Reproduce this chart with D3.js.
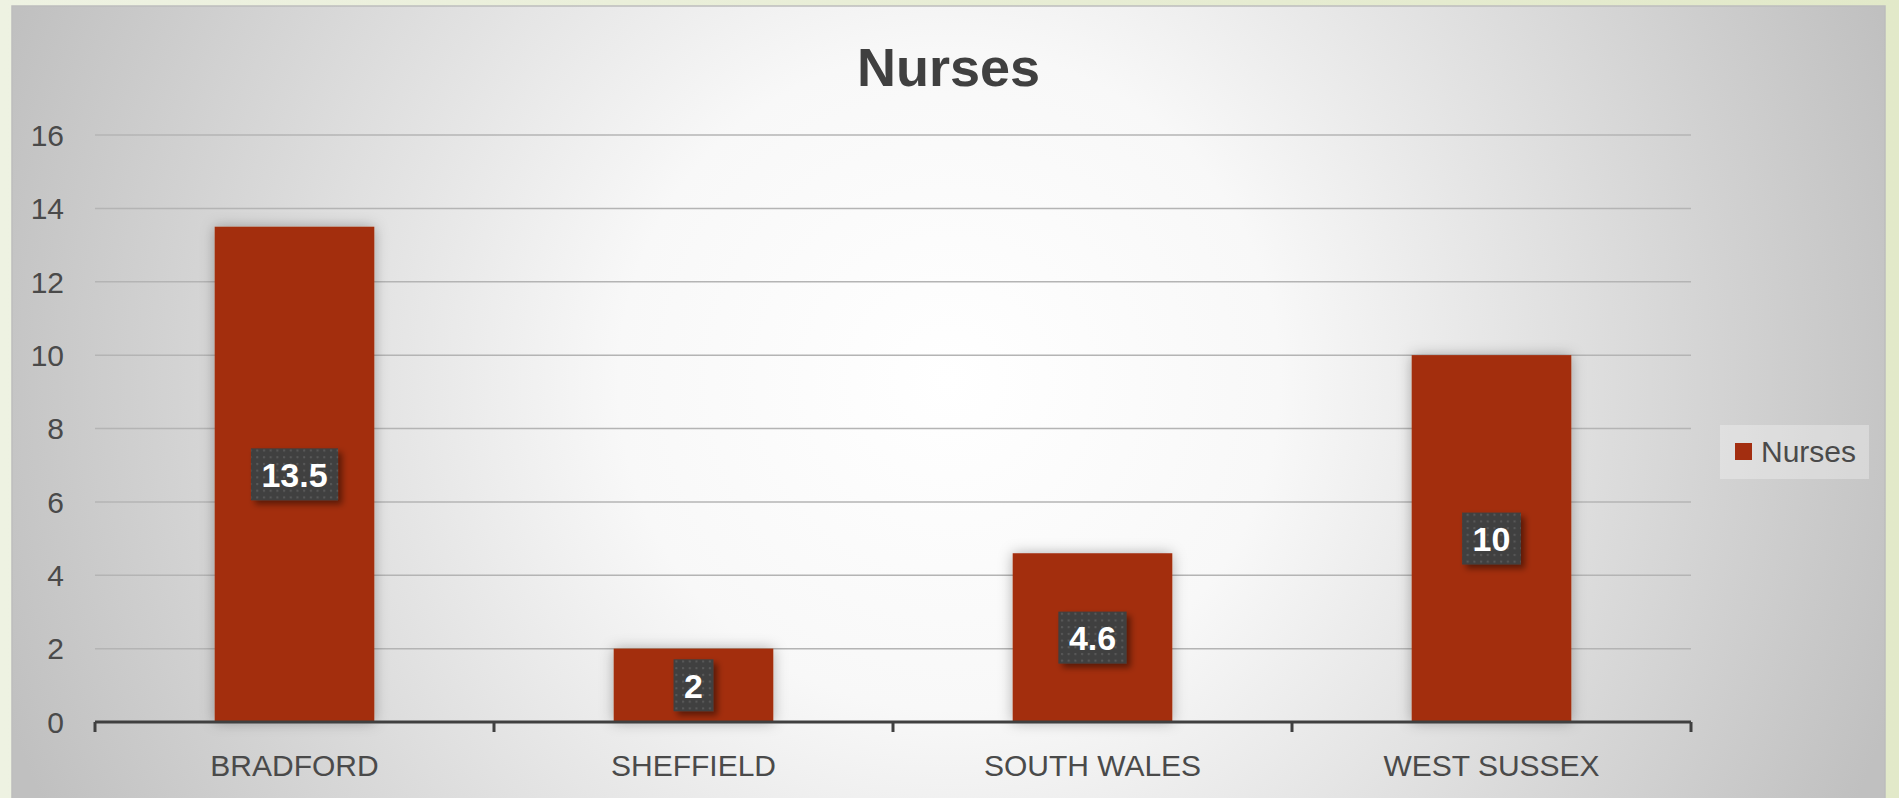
<!DOCTYPE html>
<html>
<head>
<meta charset="utf-8">
<script src="https://cdn.jsdelivr.net/npm/d3@7"></script>
<style>
	html, body { margin: 0; padding: 0; background: #e9efd8; }
	svg { display: block; }
</style>
</head>
<body>
<div id="nurses-chart"></div>
<script>
// chart data
const categories = [ 'BRADFORD', 'SHEFFIELD', 'SOUTH WALES', 'WEST SUSSEX' ];
const nurses = [ 13.5, 2, 4.6, 10 ];
const yTicks = [ 0, 2, 4, 6, 8, 10, 12, 14, 16 ];
const seriesName = 'Nurses';
const chartTitle = 'Nurses';

const width = 1899,
	height = 798;
const margin = { top: 135, right: 208, bottom: 76, left: 95 };
const font = "'Liberation Sans', Arial, sans-serif";
const barColor = '#a32e10';
const textColor = '#4a4a4a';

const svg = d3
	.select('#nurses-chart')
	.append('svg')
	.attr('width', width)
	.attr('height', height)
	.attr('viewBox', [ 0, 0, width, height ]);

const defs = svg.append('defs');

let outside = defs.append('linearGradient').attr('id', 'outside-bg');
outside.append('stop').attr('offset', '0%').attr('stop-color', '#eef2e2');
outside.append('stop').attr('offset', '100%').attr('stop-color', '#e2e9c9');

let panelGrad = defs
	.append('radialGradient')
	.attr('id', 'panel-bg')
	.attr('gradientUnits', 'userSpaceOnUse')
	.attr('cx', 949)
	.attr('cy', 380)
	.attr('r', 1000);
panelGrad.append('stop').attr('offset', '0%').attr('stop-color', '#ffffff');
panelGrad.append('stop').attr('offset', '33%').attr('stop-color', '#f8f8f8');
panelGrad.append('stop').attr('offset', '100%').attr('stop-color', '#c0c0c0');

let dots = defs
	.append('pattern')
	.attr('id', 'dots')
	.attr('patternUnits', 'userSpaceOnUse')
	.attr('width', 6.7)
	.attr('height', 6.7);
dots.append('rect').attr('width', 6.7).attr('height', 6.7).attr('fill', '#404040');
dots.append('rect').attr('x', 2).attr('y', 2).attr('width', 2).attr('height', 2).attr('fill', '#5a5a5a');

let barShadow = defs
	.append('filter')
	.attr('id', 'bar-shadow')
	.attr('x', '-30%')
	.attr('y', '-10%')
	.attr('width', '160%')
	.attr('height', '120%');
barShadow
	.append('feDropShadow')
	.attr('dx', 0)
	.attr('dy', 0)
	.attr('stdDeviation', 7)
	.attr('flood-color', '#000')
	.attr('flood-opacity', 0.3);

let labelShadow = defs
	.append('filter')
	.attr('id', 'label-shadow')
	.attr('x', '-30%')
	.attr('y', '-30%')
	.attr('width', '160%')
	.attr('height', '160%');
labelShadow
	.append('feDropShadow')
	.attr('dx', 4)
	.attr('dy', 4)
	.attr('stdDeviation', 3)
	.attr('flood-color', '#000')
	.attr('flood-opacity', 0.45);

// background + chart panel
svg.append('rect').attr('width', width).attr('height', height).attr('fill', 'url(#outside-bg)');
svg
	.append('rect')
	.attr('x', 12)
	.attr('y', 6)
	.attr('width', 1873)
	.attr('height', 810)
	.attr('fill', 'url(#panel-bg)')
	.attr('stroke', '#bdbdbd')
	.attr('stroke-width', 1.5);

let x = d3
	.scaleBand()
	.domain(categories)
	.range([ margin.left, width - margin.right ])
	.paddingInner(0.6)
	.paddingOuter(0.3);
let y = d3.scaleLinear().domain([ 0, 16 ]).range([ height - margin.bottom, margin.top ]);

// gridlines
svg
	.append('g')
	.selectAll('line')
	.data(yTicks.filter((d) => d > 0))
	.join('line')
	.attr('x1', margin.left)
	.attr('x2', width - margin.right)
	.attr('y1', (d) => y(d))
	.attr('y2', (d) => y(d))
	.attr('stroke', '#b4b4b4')
	.attr('stroke-width', 1.5);

// y labels
svg
	.append('g')
	.attr('font-family', font)
	.attr('font-size', 30)
	.attr('fill', textColor)
	.attr('text-anchor', 'end')
	.selectAll('text')
	.data(yTicks)
	.join('text')
	.attr('x', 64)
	.attr('y', (d) => y(d))
	.attr('dy', '0.36em')
	.text((d) => d);

// bars
svg
	.append('g')
	.attr('fill', barColor)
	.attr('filter', 'url(#bar-shadow)')
	.selectAll('rect')
	.data(nurses)
	.join('rect')
	.attr('x', (d, i) => x(categories[i]))
	.attr('y', (d) => y(d))
	.attr('width', x.bandwidth())
	.attr('height', (d) => y(0) - y(d));

// x axis
let xAxis = (g) =>
	g
		.attr('transform', `translate(0,${y(0)})`)
		.call(d3.axisBottom(x).tickSize(0).tickPadding(33))
		.call((g) => g.select('.domain').remove())
		.call((g) => g.selectAll('.tick line').remove())
		.call((g) =>
			g.selectAll('.tick text').attr('font-family', font).attr('font-size', 30).attr('fill', textColor)
		);
svg.append('g').call(xAxis);

let bounds = [ margin.left ].concat(categories.map((c) => x(c) + x.bandwidth() + x.step() * 0.3));
svg
	.append('path')
	.attr('fill', 'none')
	.attr('stroke', '#404040')
	.attr('stroke-width', 3)
	.attr(
		'd',
		`M${margin.left},${y(0)}H${width - margin.right}` + bounds.map((b) => `M${b},${y(0)}v10`).join('')
	);

// data labels
let labels = svg
	.append('g')
	.selectAll('g')
	.data(nurses)
	.join('g')
	.attr('transform', (d, i) => `translate(${x(categories[i]) + x.bandwidth() / 2},${(y(d) + y(0)) / 2})`);
let labelBox = labels.append('rect').attr('fill', 'url(#dots)').attr('filter', 'url(#label-shadow)');
let labelText = labels
	.append('text')
	.attr('text-anchor', 'middle')
	.attr('dy', '0.36em')
	.attr('font-family', font)
	.attr('font-weight', 'bold')
	.attr('font-size', 34)
	.attr('fill', '#ffffff')
	.text((d) => d);
labelText.each(function(d, i) {
	let w = this.getComputedTextLength() + 21;
	d3.select(labelBox.nodes()[i]).attr('x', -w / 2).attr('y', -26).attr('width', w).attr('height', 52);
});

// title
svg
	.append('text')
	.attr('x', 948.5)
	.attr('y', 86)
	.attr('text-anchor', 'middle')
	.attr('font-family', font)
	.attr('font-weight', 'bold')
	.attr('font-size', 54)
	.attr('fill', '#404040')
	.text(chartTitle);

// legend
const legend = svg.append('g').attr('transform', 'translate(1720,425)');
legend.append('rect').attr('width', 149).attr('height', 54).attr('fill', '#ffffff').attr('fill-opacity', 0.3);
legend.append('rect').attr('x', 15).attr('y', 18).attr('width', 17).attr('height', 17).attr('fill', barColor);
legend
	.append('text')
	.attr('x', 41)
	.attr('y', 37)
	.attr('font-family', font)
	.attr('font-size', 30)
	.attr('fill', textColor)
	.text(seriesName);
</script>
</body>
</html>
